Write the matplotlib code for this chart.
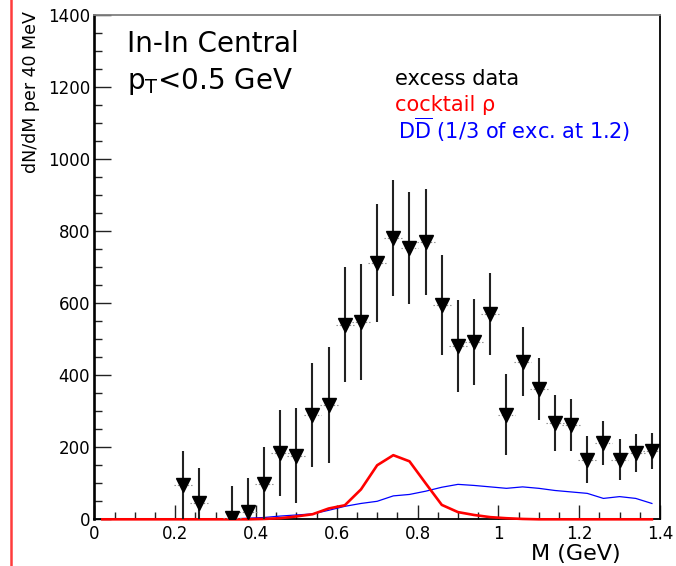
import matplotlib

matplotlib.use("Agg")
import matplotlib.pyplot as plt
from matplotlib.lines import Line2D
from matplotlib.ticker import MultipleLocator

# excess data (triangles with vertical errors)
mass = [0.22, 0.26, 0.34, 0.38, 0.42, 0.46, 0.50, 0.54, 0.58, 0.62, 0.66, 0.70, 0.74, 0.78, 0.82,
        0.86, 0.90, 0.94, 0.98, 1.02, 1.06, 1.10, 1.14, 1.18, 1.22, 1.26, 1.30, 1.34, 1.38]
excess = [95, 45, 4, 20, 98, 184, 176, 290, 318, 540, 548, 712, 781, 753, 770,
          595, 481, 492, 570, 290, 437, 362, 267, 262, 165, 212, 165, 184, 190]
excess_err = [95, 97, 88, 94, 102, 120, 132, 144, 161, 160, 162, 163, 160, 156, 147,
              138, 127, 120, 115, 112, 96, 85, 77, 71, 65, 60, 57, 52, 50]

# curves, sampled every 40 MeV from 0.02 to 1.38
curve_mass = [0.02, 0.06, 0.10, 0.14, 0.18, 0.22, 0.26, 0.30, 0.34, 0.38, 0.42, 0.46, 0.50, 0.54,
              0.58, 0.62, 0.66, 0.70, 0.74, 0.78, 0.82, 0.86, 0.90, 0.94, 0.98, 1.02, 1.06, 1.10,
              1.14, 1.18, 1.22, 1.26, 1.30, 1.34, 1.38]
cocktail_rho = [0, 0, 0, 0, 0, 0, 0, 0, 0, 0, 1, 3, 8, 14,
                30, 39, 83, 150, 178, 161, 100, 40, 20, 12, 6, 3, 1, 0,
                0, 0, 0, 0, 0, 0, 0]
ddbar = [0, 0, 0, 0, 0, 0, 0, 0, 1, 3, 5, 9, 12, 15,
         25, 36, 44, 50, 65, 69, 78, 89, 97, 94, 90, 86, 90, 86,
         80, 76, 72, 58, 63, 58, 44]

x_ticks = [0, 0.2, 0.4, 0.6, 0.8, 1.0, 1.2, 1.4]
x_tick_labels = ["0", "0.2", "0.4", "0.6", "0.8", "1", "1.2", "1.4"]
y_ticks = [0, 200, 400, 600, 800, 1000, 1200, 1400]

plt.rcParams["mathtext.fontset"] = "dejavusans"

fig = plt.figure(figsize=(6.76, 5.66), dpi=100)
ax = fig.add_axes([0.1395, 0.0825, 0.8368, 0.891])

ax.plot(curve_mass, ddbar, color="blue", lw=0.9, zorder=3, clip_on=False)
ax.plot(curve_mass, cocktail_rho, color="red", lw=1.9, zorder=3, clip_on=False)

ax.hlines(excess, [m - 0.022 for m in mass], [m + 0.022 for m in mass],
          colors="#888888", linestyles=(0, (1.2, 1.8)), lw=0.8, zorder=3)
ax.errorbar(mass, excess, yerr=excess_err, fmt="v", color="black", ecolor="#222222",
            elinewidth=1.5, capsize=0, ms=10, zorder=4)

ax.set_xlim(0, 1.4)
ax.set_ylim(0, 1400)
ax.set_xticks(x_ticks)
ax.set_xticklabels(x_tick_labels)
ax.set_yticks(y_ticks)
ax.xaxis.set_minor_locator(MultipleLocator(0.05))
ax.yaxis.set_minor_locator(MultipleLocator(50))
ax.tick_params(which="both", direction="in", top=False, right=False, width=1.0, color="#222222",
               labelsize=12)
ax.tick_params(axis="y", which="major", length=12, pad=3)
ax.tick_params(axis="y", which="minor", length=5.8)
ax.tick_params(axis="x", which="major", length=10, pad=4)
ax.tick_params(axis="x", which="minor", length=5)

ax.spines["left"].set_linewidth(1.9)
ax.spines["bottom"].set_linewidth(1.3)
ax.spines["top"].set_color("#808080")
ax.spines["top"].set_linewidth(1.3)
ax.spines["right"].set_linewidth(1.3)

ax.set_xlabel("M (GeV)", fontsize=16)
ax.xaxis.set_label_coords(0.931, -0.049)
ax.xaxis.label.set(ha="right", va="top")
ax.set_ylabel("dN/dM per 40 MeV", fontsize=12.5)
ax.yaxis.set_label_coords(-0.112, 1.007)
ax.yaxis.label.set(ha="center", va="top", rotation_mode="default")

ax.text(0.058, 0.927, "In-In Central", transform=ax.transAxes, fontsize=20, va="baseline")
ax.text(0.058, 0.853, r"p$_\mathregular{T}$<0.5 GeV", transform=ax.transAxes, fontsize=20,
        va="baseline")

ax.text(0.531, 0.862, "excess data", transform=ax.transAxes, fontsize=15, va="baseline",
        color="black")
ax.text(0.531, 0.809, "cocktail ρ", transform=ax.transAxes, fontsize=15, va="baseline",
        color="red")
ax.text(0.537, 0.754, r"$\mathregular{D\overline{D}}$ (1/3 of exc. at 1.2)",
        transform=ax.transAxes, fontsize=15, va="baseline", color="blue")

# red page border on the left
fig.add_artist(Line2D([10.5 / 676, 10.5 / 676], [0, 1], transform=fig.transFigure,
                      color="#ff3c3c", lw=1.8))

fig.savefig("out.png", dpi=100)
